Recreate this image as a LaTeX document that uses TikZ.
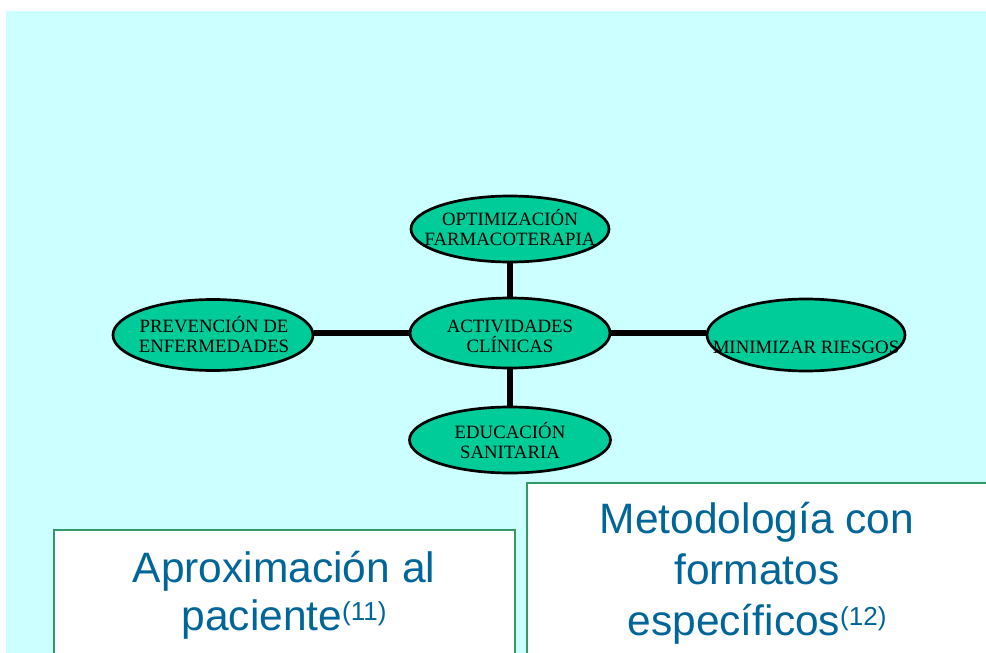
\documentclass[tikz,border=0pt]{standalone}
\usepackage{fontspec}
\setmainfont{Liberation Serif}
\newfontfamily\boxfont{Liberation Sans}
\usetikzlibrary{shapes.geometric,backgrounds}
\definecolor{bgcyan}{HTML}{CCFFFF}
\definecolor{ellfill}{HTML}{00CC99}
\definecolor{boxline}{HTML}{339966}
\definecolor{boxtext}{HTML}{006699}
\tikzset{
  ell/.style={ellipse, draw=black, line width=2.7pt, fill=ellfill, inner sep=0pt},
  elltext/.style={align=center, font=\fontsize{18.8}{20}\selectfont, inner sep=0pt},
  conn/.style={line width=6.5pt, black},
  bigbox/.style={draw=boxline, line width=2.6pt, fill=white},
  boxtxt/.style={align=center, text=boxtext, inner sep=0pt},
}
\begin{document}
\begin{tikzpicture}[x=1pt, y=-1pt]
\useasboundingbox (0,0) rectangle (986,653);
\node[ell, minimum width=198pt, minimum height=66pt] (opt) at (510,229) {};
\node[ell, minimum width=200pt, minimum height=70pt] (act) at (510,333) {};
\node[ell, minimum width=200pt, minimum height=71pt] (prev) at (213,335) {};
\node[ell, minimum width=198pt, minimum height=72pt] (min) at (806,335) {};
\node[ell, minimum width=201pt, minimum height=66pt] (edu) at (510,440) {};
\begin{scope}[on background layer]
\fill[bgcyan] (6,11) rectangle (990,660);
\draw[conn] (opt.south) -- (act.north);
\draw[conn] (act.south) -- (edu.north);
\draw[conn] (prev.east |- act.center) -- (act.west |- act.center);
\draw[conn] (act.east |- act.center) -- (min.west |- act.center);
\end{scope}
% texts (anchor base = baseline of the last line)
\node[elltext, anchor=base] (optt) at (510,245) {OPTIMIZACIÓN\\FARMACOTERAPIA};
\node[elltext, anchor=base] (actt) at (510,352) {ACTIVIDADES\\CLÍNICAS};
\node[elltext, anchor=base] (prevt) at (214,352) {PREVENCIÓN DE\\ENFERMEDADES};
\node[elltext, anchor=base] (mint) at (806,353) {MINIMIZAR RIESGOS};
\node[elltext, anchor=base] (edut) at (510,458) {EDUCACIÓN\\SANITARIA};
% boxes
\draw[bigbox] (54,530) rectangle (515,665);
\draw[bigbox] (527,483) rectangle (995,665);
\node[boxtxt, font=\boxfont\fontsize{42.5}{48}\selectfont, anchor=base] (apt) at (284,630)
  {Aproximación al\\paciente\raisebox{10pt}{\fontsize{26}{26}\selectfont(11)}};
\node[boxtxt, font=\boxfont\fontsize{42.5}{51}\selectfont, anchor=base] (met) at (757,635)
  {Metodología con\\formatos\\específicos\raisebox{10pt}{\fontsize{26}{26}\selectfont(12)}};
\end{tikzpicture}
\end{document}
